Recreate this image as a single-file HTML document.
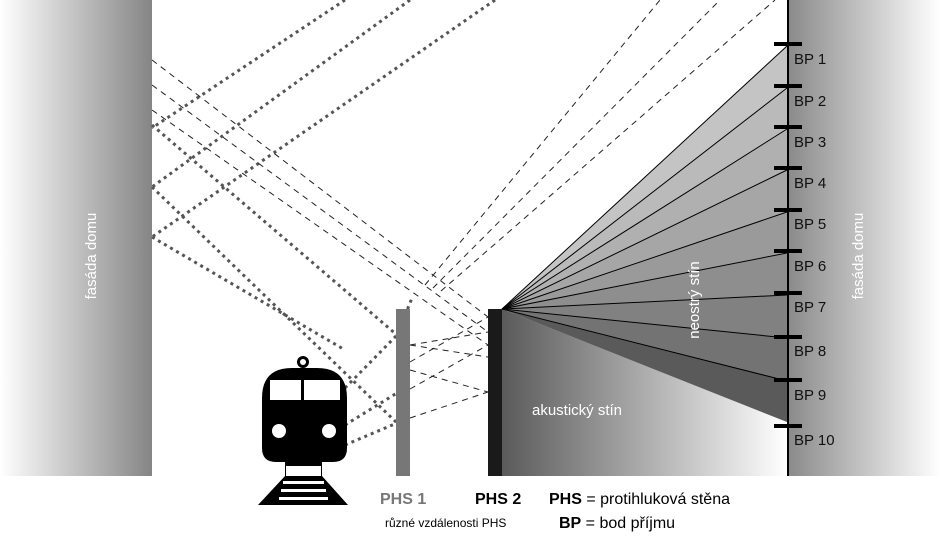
<!DOCTYPE html>
<html><head><meta charset="utf-8"><style>
body{margin:0;background:#fff;width:940px;height:549px;overflow:hidden}
svg{display:block}
text{font-family:"Liberation Sans",sans-serif}
</style></head><body>
<svg width="940" height="549" viewBox="0 0 940 549" xmlns="http://www.w3.org/2000/svg">
<defs>
<linearGradient id="lf" x1="0" x2="1"><stop offset="0" stop-color="#fff"/><stop offset="1" stop-color="#858585"/></linearGradient>
<linearGradient id="rf" x1="0" x2="1"><stop offset="0" stop-color="#8a8a8a"/><stop offset="1" stop-color="#fff"/></linearGradient>
<linearGradient id="ak" x1="0" x2="1"><stop offset="0" stop-color="#5a5a5a"/><stop offset="1" stop-color="#fff"/></linearGradient>
</defs>
<rect x="0" y="0" width="152" height="476" fill="url(#lf)"/>
<rect x="788" y="0" width="152" height="476" fill="url(#rf)"/>
<polygon points="502,309 787,422 787,476 502,476" fill="url(#ak)"/>
<polygon points="502,309 787,46 787,88" fill="#c4c4c4"/>
<polygon points="502,309 787,88 787,129" fill="#bababa"/>
<polygon points="502,309 787,129 787,170" fill="#b0b0b0"/>
<polygon points="502,309 787,170 787,212" fill="#a6a6a6"/>
<polygon points="502,309 787,212 787,253" fill="#9a9a9a"/>
<polygon points="502,309 787,253 787,295" fill="#8e8e8e"/>
<polygon points="502,309 787,295 787,338" fill="#818181"/>
<polygon points="502,309 787,338 787,381" fill="#737373"/>
<polygon points="502,309 787,381 787,422" fill="#5a5a5a"/>
<g stroke="#000" stroke-width="1">
<line x1="502" y1="309" x2="787" y2="46"/><line x1="502" y1="309" x2="787" y2="88"/>
<line x1="502" y1="309" x2="787" y2="129"/><line x1="502" y1="309" x2="787" y2="170"/>
<line x1="502" y1="309" x2="787" y2="212"/><line x1="502" y1="309" x2="787" y2="253"/>
<line x1="502" y1="309" x2="787" y2="295"/><line x1="502" y1="309" x2="787" y2="338"/>
<line x1="502" y1="309" x2="787" y2="381"/>
</g>
<line x1="788" y1="0" x2="788" y2="476" stroke="#000" stroke-width="2"/>
<g stroke="#000" stroke-width="4">
<line x1="774" y1="44" x2="802" y2="44"/><line x1="774" y1="86" x2="802" y2="86"/>
<line x1="774" y1="127" x2="802" y2="127"/><line x1="774" y1="168" x2="802" y2="168"/>
<line x1="774" y1="210" x2="802" y2="210"/><line x1="774" y1="251" x2="802" y2="251"/>
<line x1="774" y1="293" x2="802" y2="293"/><line x1="774" y1="337" x2="802" y2="337"/>
<line x1="774" y1="380" x2="802" y2="380"/><line x1="774" y1="426" x2="802" y2="426"/>
</g>
<g font-size="15" fill="#111">
<text x="794" y="64">BP 1</text><text x="794" y="106">BP 2</text><text x="794" y="147">BP 3</text>
<text x="794" y="188">BP 4</text><text x="794" y="229">BP 5</text><text x="794" y="271">BP 6</text>
<text x="794" y="312">BP 7</text><text x="794" y="356">BP 8</text><text x="794" y="400">BP 9</text>
<text x="794" y="445">BP 10</text>
</g>
<text transform="translate(863,256) rotate(-90)" text-anchor="middle" font-size="15" fill="#fff">fasáda domu</text>
<text transform="translate(96,256) rotate(-90)" text-anchor="middle" font-size="15" fill="#fff">fasáda domu</text>
<text transform="translate(699,300) rotate(-90)" text-anchor="middle" font-size="15" fill="#fff">neostrý stín</text>
<text x="532" y="415" font-size="15" fill="#fff">akustický stín</text>
<g stroke="#555" stroke-width="3" stroke-dasharray="3 4" fill="none">
<line x1="345" y1="0" x2="152" y2="128"/>
<line x1="410" y1="0" x2="152" y2="187"/>
<line x1="495" y1="0" x2="152" y2="237"/>
<line x1="152" y1="125" x2="397" y2="335"/>
<line x1="152" y1="187" x2="397" y2="423"/>
<line x1="152" y1="237" x2="345" y2="350"/>
<line x1="345" y1="388" x2="397" y2="335"/>
<line x1="345" y1="425" x2="397" y2="393"/>
<line x1="345" y1="445" x2="397" y2="423"/>
<line x1="397" y1="335" x2="412" y2="298"/>
</g>
<g stroke="#222" stroke-width="1" stroke-dasharray="6 5" fill="none">
<line x1="152" y1="60" x2="488" y2="317"/>
<line x1="152" y1="85" x2="488" y2="332"/>
<line x1="152" y1="110" x2="488" y2="345"/>
<line x1="425" y1="285" x2="660" y2="0"/>
<line x1="433" y1="288" x2="720" y2="0"/>
<line x1="441" y1="291" x2="775" y2="0"/>
<line x1="410" y1="345" x2="488" y2="332"/>
<line x1="410" y1="345" x2="488" y2="357"/>
<line x1="410" y1="362" x2="488" y2="317"/>
<line x1="410" y1="389" x2="488" y2="345"/>
<line x1="410" y1="370" x2="488" y2="392"/>
<line x1="410" y1="418" x2="488" y2="392"/>
</g>
<rect x="396" y="309" width="14" height="167" fill="#777"/>
<rect x="488" y="309" width="14" height="167" fill="#1a1a1a"/>
<g>
<circle cx="303" cy="362" r="6" fill="#000"/><circle cx="303" cy="362" r="3" fill="#fff"/>
<path d="M262,398 Q262,368 292,368 L317,368 Q347,368 347,398 L347,448 Q347,462 333,462 L276,462 Q262,462 262,448 Z" fill="#000"/>
<rect x="270" y="380" width="31" height="20" fill="#fff"/><rect x="304" y="380" width="36" height="20" fill="#fff"/>
<circle cx="279" cy="431" r="7" fill="#fff"/><circle cx="329" cy="431" r="7" fill="#fff"/>
<polygon points="285,462 322,462 322,476 348,505 258,505 285,476" fill="#000"/>
<rect x="286" y="466" width="35" height="10" fill="#fff"/>
<rect x="283" y="481" width="41" height="3" fill="#fff"/>
<rect x="281" y="489" width="45" height="3" fill="#fff"/>
<rect x="279" y="497" width="49" height="3" fill="#fff"/>
</g>
<text x="380" y="504" font-size="16" font-weight="bold" fill="#777">PHS 1</text>
<text x="475" y="504" font-size="16" font-weight="bold" fill="#000">PHS 2</text>
<text x="549" y="504" font-size="16" fill="#000"><tspan font-weight="bold">PHS</tspan> = protihluková stěna</text>
<text x="385" y="527" font-size="12" fill="#000">různé vzdálenosti PHS</text>
<text x="559" y="528" font-size="16" fill="#000"><tspan font-weight="bold">BP</tspan> = bod příjmu</text>
</svg>
</body></html>
